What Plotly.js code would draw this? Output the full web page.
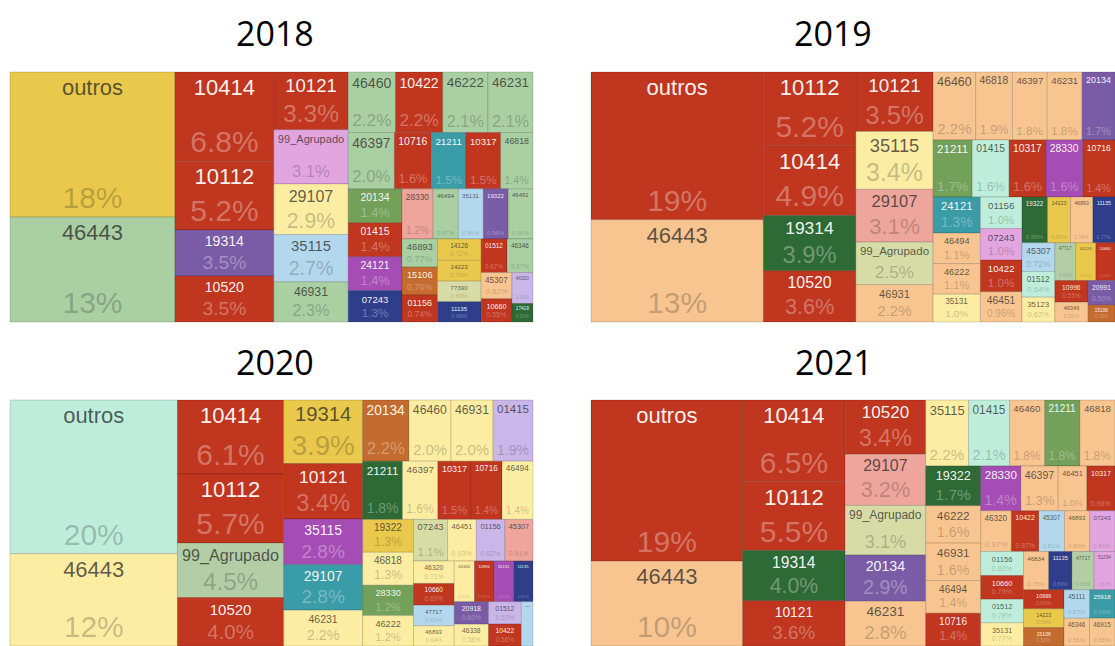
<!DOCTYPE html>
<html><head><meta charset="utf-8">
<script src="https://cdn.plot.ly/plotly-3.0.1.min.js"></script>
<style>html,body{margin:0;padding:0;overflow:hidden;background:#fff}#chart{width:1115px;height:650px}</style>
</head><body><div id="chart"></div>
<script>
// ---------------- DATA ----------------
const years = ['2018', '2019', '2020', '2021'];

const labels2018 = ['outros','46443','10414','10112','19314','10520','10121','99_Agrupado','29107','35115','46931','46460','10422','46222','46231','46397','10716','21211','10317','46818','20134','01415','24121','07243','28330','46494','35131','19322','46451','46893','15106','01156','14126','14223','77390','11135','01512','46346','45307','10660','46320','17419'];
const values2018 = [18.4,13.3,6.8,5.2,3.5,3.5,3.3,3.1,2.9,2.7,2.3,2.2,2.2,2.1,2.1,2.0,1.6,1.5,1.5,1.4,1.4,1.4,1.4,1.3,1.2,0.97,0.96,0.96,0.95,0.77,0.76,0.74,0.72,0.70,0.69,0.68,0.67,0.67,0.62,0.55,0.50,0.30];

const labels2019 = ['outros','46443','10112','10414','19314','10520','10121','35115','29107','99_Agrupado','46931','46460','46818','46397','46231','20134','21211','01415','10317','28330','10716','24121','46494','46222','35131','01156','07243','10422','46451','19322','14223','46893','11135','45307','01512','35123','47717','14126','10660','10996','46346','20991','15106'];
const values2019 = [19.4,13.4,5.2,4.9,3.9,3.6,3.5,3.4,3.1,2.5,2.2,2.2,1.9,1.8,1.8,1.7,1.7,1.6,1.6,1.6,1.4,1.3,1.1,1.1,1.0,1.0,1.0,1.0,0.96,0.89,0.80,0.78,0.77,0.72,0.64,0.62,0.60,0.58,0.55,0.55,0.50,0.50,0.35];

const labels2020 = ['outros','46443','10414','10112','99_Agrupado','10520','19314','10121','35115','29107','46231','20134','46460','46931','01415','21211','46397','10317','10716','46494','19322','46818','28330','46222','07243','46451','01156','45307','46320','10660','47717','46893','46346','10996','35131','11135','20918','46338','01512','10422','47539'];
const values2020 = [20,12,6.1,5.7,4.5,4.0,3.9,3.4,2.8,2.8,2.2,2.2,2.0,2.0,1.9,1.8,1.6,1.5,1.4,1.4,1.3,1.3,1.2,1.2,1.1,0.93,0.92,0.91,0.71,0.69,0.65,0.64,0.64,0.62,0.62,0.61,0.60,0.58,0.57,0.56,0.40];

const labels2021 = ['outros','46443','10414','10112','19314','10121','10520','29107','99_Agrupado','20134','46231','35115','01415','46460','21211','46818','19322','46222','46931','46494','10716','28330','46397','46451','10317','46320','10422','45307','46893','07243','01156','10660','01512','35131','46834','11135','47717','51294','10996','14223','15106','45111','25918','46346','46915'];
const values2021 = [19,10,6.5,5.5,4.0,3.6,3.4,3.2,3.1,2.9,2.8,2.2,2.1,1.8,1.8,1.8,1.7,1.6,1.6,1.4,1.4,1.4,1.3,1.0,0.98,0.97,0.87,0.81,0.80,0.80,0.80,0.79,0.78,0.77,0.75,0.69,0.66,0.62,0.60,0.59,0.58,0.57,0.56,0.55,0.55];

// ---------------- STYLES ----------------
const PALETTE = {
  R:'#C0361F', Y:'#EAC84B', G:'#A9CFA3', P:'#7A5CA6', L:'#E3A5DF', PY:'#FDEDA2',
  LB:'#B3D8EE', T:'#3A9CA6', OG:'#73A159', M:'#A54DB4', N:'#2E3E8B', S:'#EEA59B',
  OB:'#C46B2F', PO:'#D7DCA6', PE:'#F8C590', LV:'#CAB6E9', DG:'#2E6A36', MI:'#BEEEDB', GG:'#B3CEA6'
};
const colors2018 = ['Y','G','R','R','P','R','R','L','PY','LB','G','G','R','G','G','G','R','T','R','G','OG','R','M','N','S','G','LB','P','G','G','OB','R','Y','Y','PO','N','R','G','PE','R','LV','DG'];
const colors2019 = ['R','PE','R','R','DG','R','R','PY','S','PO','PE','PE','PE','PE','PE','P','OG','MI','R','M','R','T','PE','PE','PY','MI','L','R','PE','DG','Y','PE','N','LB','MI','PY','GG','Y','R','R','PE','P','OB'];
const colors2020 = ['MI','PY','R','R','GG','R','Y','R','M','T','PY','OB','PY','PY','LV','DG','PY','R','R','PY','Y','PY','OG','PY','PO','PY','LV','S','PY','R','LB','PY','PY','R','M','N','P','PY','LV','R','LB'];
const colors2021 = ['R','PE','R','R','DG','R','R','S','PO','P','PE','PY','MI','PE','OG','PE','DG','PE','PE','PE','R','M','PE','PE','R','PE','R','LB','PE','L','MI','R','MI','PY','PE','N','GG','L','R','Y','OB','LB','T','PE','PE'];

const FONT = 'Liberation Sans, Arial, sans-serif';
const PHI = (1 + Math.sqrt(5)) / 2;
const FIG_W = 1115, FIG_H = 650;
const LABEL_MAX = 22, PCT_MAX = 30;

// panel placement (layout only)
const panels = [
  {x:[10/FIG_W, 533/FIG_W], y:[1-322/FIG_H, 1-72/FIG_H], tx:275, ty:33},
  {x:[591/FIG_W, 1], y:[1-322/FIG_H, 1-72/FIG_H], tx:833, ty:33},
  {x:[10/FIG_W, 533/FIG_W], y:[1-646/FIG_H, 1-400/FIG_H], tx:275, ty:362},
  {x:[591/FIG_W, 1], y:[1-646/FIG_H, 1-400/FIG_H], tx:834, ty:362}
];

// ---------------- HELPERS ----------------
const cnv = document.createElement('canvas').getContext('2d');
function textW(s){ cnv.font = '100px "Liberation Sans"'; return cnv.measureText(s).width/100; }
function fmtPct(v){ if(v>=10) return Math.round(v)+'%'; if(v>=1) return v.toFixed(1)+'%'; return v.toFixed(2)+'%'; }
function isDark(hex){
  const r=parseInt(hex.substr(1,2),16), g=parseInt(hex.substr(3,2),16), b=parseInt(hex.substr(5,2),16);
  return (0.299*r+0.587*g+0.114*b) < 150;
}
// same squarify tiling the library uses, only to size the fonts
function tileSizes(values, W, H, ratio){
  const idx = values.map((v,i)=>i).sort((a,b)=>values[b]-values[a]);
  const out = new Array(values.length);
  let x0=0,y0=0,x1=W,y1=H, value=values.reduce((a,b)=>a+b,0), i0=0,i1=0, n=idx.length;
  while(i0<n){
    const dx=x1-x0, dy=y1-y0;
    let sum=values[idx[i1++]], mn=sum, mx=sum;
    const alpha=Math.max(dy/dx,dx/dy)/(value*ratio);
    let beta=sum*sum*alpha, minR=Math.max(mx/beta,beta/mn);
    for(;i1<n;++i1){
      const nv=values[idx[i1]]; sum+=nv; if(nv<mn)mn=nv; if(nv>mx)mx=nv;
      beta=sum*sum*alpha; const nr=Math.max(mx/beta,beta/mn);
      if(nr>minR){sum-=nv;break;} minR=nr;
    }
    const row=idx.slice(i0,i1);
    if(dx<dy){ const h=dy*sum/value; row.forEach(k=>{out[k]={w:dx*values[k]/sum,h:h};}); y0+=h; }
    else { const w=dx*sum/value; row.forEach(k=>{out[k]={w:w,h:dy*values[k]/sum};}); x0+=w; }
    value-=sum; i0=i1;
  }
  return out;
}

function buildYear(labels, values, colorKeys, panel){
  const W=(panel.x[1]-panel.x[0])*FIG_W, H=(panel.y[1]-panel.y[0])*FIG_H;
  const rects=tileSizes(values, W, H, PHI);
  const pct=values.map(fmtPct);
  const cols=colorKeys.map(k=>PALETTE[k]);
  const dark=cols.map(isDark);
  const labS=[], pctS=[];
  rects.forEach((r,i)=>{
    const l0=Math.min(LABEL_MAX,(r.w-8)/textW(labels[i]));
    const p0=Math.min(PCT_MAX,(r.w-8)/textW(pct[i]), l0*1.5);
    const need=(l0+p0)*1.2+6;
    const s= need>r.h ? Math.max(0.1,(r.h-6)/((l0+p0)*1.2)) : 1;
    labS.push(Math.max(3,l0*s)); pctS.push(Math.max(3,p0*s));
  });
  const common={
    type:'treemap', labels:labels, parents:labels.map(()=> ''), values:values, sort:true,
    tiling:{packing:'squarify', squarifyratio:PHI, pad:0},
    pathbar:{visible:false}, root:{color:'rgba(0,0,0,0)'},
    domain:{x:panel.x, y:panel.y}, hoverinfo:'none'
  };
  const t1=Object.assign({}, common, {
    marker:{colors:cols, line:{color:'rgba(0,0,0,0.15)', width:1}, pad:{t:0,l:0,r:0,b:0}},
    texttemplate:'%{label}', textposition:'top center',
    textfont:{family:FONT, size:labS, color:dark.map(d=>d?'rgba(255,255,255,0.95)':'rgba(35,35,35,0.72)')}
  });
  const t2=Object.assign({}, common, {
    marker:{colors:cols.map(()=> 'rgba(0,0,0,0)'), line:{color:'rgba(0,0,0,0)', width:0}, pad:{t:0,l:0,r:0,b:0}},
    text:pct, texttemplate:'%{text}', textposition:'bottom center',
    textfont:{family:FONT, size:pctS, color:dark.map(d=>d?'rgba(255,255,255,0.33)':'rgba(35,35,35,0.26)')}
  });
  return [t1,t2];
}

const allLabels=[labels2018,labels2019,labels2020,labels2021];
const allValues=[values2018,values2019,values2020,values2021];
const allColors=[colors2018,colors2019,colors2020,colors2021];
let data=[];
for(let k=0;k<4;k++) data=data.concat(buildYear(allLabels[k],allValues[k],allColors[k],panels[k]));

const annotations=years.map((y,k)=>({
  text:y, xref:'paper', yref:'paper', x:panels[k].tx/FIG_W, y:1-panels[k].ty/FIG_H,
  xanchor:'center', yanchor:'middle', showarrow:false,
  font:{family:'Open Sans, Liberation Sans, sans-serif', size:34, color:'#000'}
}));

Plotly.newPlot('chart', data, {
  width:FIG_W, height:FIG_H, margin:{l:0,r:0,t:0,b:0},
  paper_bgcolor:'#ffffff', showlegend:false, annotations:annotations
}, {staticPlot:true, displayModeBar:false});
</script></body></html>
